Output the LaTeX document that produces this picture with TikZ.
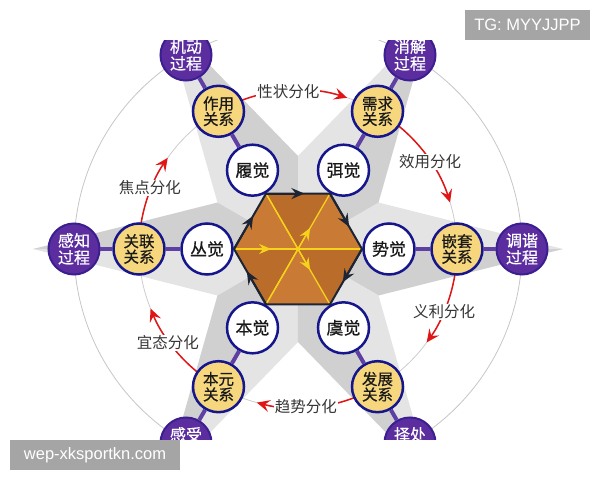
\documentclass[tikz,border=0pt]{standalone}
\usepackage{fontspec}
\newfontfamily\cjk[FakeBold=0.6]{Noto Sans CJK SC}
\newfontfamily\cjkl{Noto Sans CJK SC}
\newfontfamily\wmfont{Liberation Sans}
\usetikzlibrary{arrows.meta}
\definecolor{navyb}{HTML}{16168C}
\definecolor{purp}{HTML}{5B2D9E}
\definecolor{purpedge}{HTML}{3B1F90}
\definecolor{purpline}{HTML}{5E3FA3}
\definecolor{yel}{HTML}{F6D77E}
\definecolor{hexA}{HTML}{C97B36}
\definecolor{hexB}{HTML}{BA6C2B}
\definecolor{hexedge}{HTML}{1D2535}
\definecolor{arrnavy}{HTML}{1B2D4F}
\definecolor{yline}{HTML}{F7D21A}
\definecolor{redarr}{HTML}{E01515}
\definecolor{lbl}{HTML}{363636}
\definecolor{starA}{HTML}{D0D0D0}
\definecolor{starB}{HTML}{E4E4E4}
\definecolor{wmgray}{HTML}{A5A5A5}
\begin{document}
\begin{tikzpicture}[x=1pt,y=1pt,
  cnode/.style={circle, minimum size=51pt, inner sep=0pt, line width=2.5pt, draw=navyb, align=center},
  jue/.style={cnode, fill=white, text=black!90, font=\cjk\fontsize{17}{19}\selectfont},
  guanxi/.style={cnode, fill=yel, text=black!90, font=\cjk\fontsize{15.5}{15.5}\selectfont},
  guocheng/.style={cnode, fill=purp, draw=purpedge, line width=2pt, text=white, font=\cjk\fontsize{16}{17}\selectfont},
  pctext/.style={inner sep=0pt, text=white, font=\cjk\fontsize{16}{17}\selectfont},
  lab/.style={fill=white, inner sep=1pt, text=lbl, font=\cjkl\fontsize{15.5}{15.5}\selectfont},
  redarc/.style={draw=redarr, line width=1.5pt, -{Stealth[length=13pt,width=12pt,inset=5pt]}},
  spoke/.style={draw=purpline, line width=4pt},
  yl/.style={draw=yline, line width=1.3pt},
  yarr/.style={yl, -{Stealth[length=12pt,width=10pt,inset=4pt]}},
  harr/.style={draw=hexedge, line width=2pt, -{Stealth[length=13pt,width=11pt,inset=4.5pt,fill=arrnavy]}},
  wm/.style={fill=wmgray, text=white, inner sep=0pt, font=\wmfont\fontsize{16.5}{17}\selectfont}
]
\useasboundingbox (-298,-231) rectangle (302,249);
\begin{scope}
\clip (-298,-190) rectangle (302,209);
% background star
\foreach \a in {0,60,...,300} {
  \fill[starB] (0,0) -- (\a+30:93) -- (\a:265) -- cycle;
  \fill[starA] (0,0) -- (\a-30:93) -- (\a:265) -- cycle;
}
% thin circles
\draw[gray!45, line width=0.8pt] (0,0) circle[radius=224];
\draw[gray!40, line width=0.8pt] (0,0) circle[radius=159];
% hexagon
\foreach \i in {0,...,5} { \coordinate (h\i) at (60*\i:64); }
\coordinate (hc) at (0,0);
\fill[hexA] (hc) -- (h0) -- (h1) -- cycle;
\fill[hexB] (hc) -- (h1) -- (h2) -- cycle;
\fill[hexA] (hc) -- (h2) -- (h3) -- cycle;
\fill[hexB] (hc) -- (h3) -- (h4) -- cycle;
\fill[hexA] (hc) -- (h4) -- (h5) -- cycle;
\fill[hexB] (hc) -- (h5) -- (h0) -- cycle;
\draw[yl] (h0) -- (h3);
\draw[yl] (h1) -- (h4);
\draw[yl] (h2) -- (h5);
\path (h3) -- (h0) coordinate[pos=0.29] (ya1);
\path (h4) -- (h1) coordinate[pos=0.69] (ya2);
\path (h2) -- (h5) coordinate[pos=0.69] (ya3);
\draw[yarr] (h3) -- (ya1);
\draw[yarr] (h4) -- (ya2);
\draw[yarr] (h2) -- (ya3);
\draw[hexedge, line width=2pt, line join=round] (h0) -- (h1) -- (h2) -- (h3) -- (h4) -- (h5) -- cycle;
\path (h2) -- (h1) coordinate[pos=0.6] (ea1);
\path (h1) -- (h0) coordinate[pos=0.6] (ea2);
\path (h0) -- (h5) coordinate[pos=0.6] (ea3);
\path (h4) -- (h3) coordinate[pos=0.6] (ea4);
\path (h3) -- (h2) coordinate[pos=0.6] (ea5);
\draw[harr] (h2) -- (ea1);
\draw[harr] (h1) -- (ea2);
\draw[harr] (h0) -- (ea3);
\draw[harr] (h4) -- (ea4);
\draw[harr] (h3) -- (ea5);
% red arcs
\coordinate (r1) at (110.5:159);
\coordinate (r2) at (50.5:159);
\coordinate (r3) at (-9.5:159);
\coordinate (r4) at (-69.5:159);
\coordinate (r5) at (-129.5:159);
\coordinate (r6) at (170.5:159);
\draw[redarc] (r1) arc[start angle=110.5, end angle=72, radius=159];
\draw[redarc] (r2) arc[start angle=50.5, end angle=17, radius=159];
\draw[redarc] (r3) arc[start angle=-9.5, end angle=-36, radius=159];
\draw[redarc] (r4) arc[start angle=-69.5, end angle=-105, radius=159];
\draw[redarc] (r5) arc[start angle=-129.5, end angle=-158, radius=159];
\draw[redarc] (r6) arc[start angle=170.5, end angle=145, radius=159];
% nodes
\node[jue] (j1) at (120:91) {履觉};
\node[jue] (j2) at (60:91) {弭觉};
\node[jue] (j3) at (0:91) {势觉};
\node[jue] (j4) at (-60:91) {虞觉};
\node[jue] (j5) at (-120:91) {本觉};
\node[jue] (j6) at (180:91) {丛觉};
\node[guanxi] (g1) at (120:159) {作用\\关系};
\node[guanxi] (g2) at (60:159) {需求\\关系};
\node[guanxi] (g3) at (0:159) {嵌套\\关系};
\node[guanxi] (g4) at (-60:159) {发展\\关系};
\node[guanxi] (g5) at (-120:159) {本元\\关系};
\node[guanxi] (g6) at (180:159) {关联\\关系};
\node[guocheng] (p1) at (120:224) {机动\\过程};
\node[guocheng] (p2) at (60:224) {消解\\过程};
\node[guocheng] (p3) at (0:224) {调谐\\过程};
\node[guocheng] (p4) at (-60:224) {};
\node[guocheng] (p5) at (-120:224) {};
\node[guocheng] (p6) at (180:224) {感知\\过程};
\node[pctext] (p4t) at ([yshift=8.5pt]p4.center) {择处};
\node[pctext] (p5t) at ([yshift=8.5pt]p5.center) {感受};
% spokes
\foreach \k in {1,...,6} {
  \draw[spoke] (p\k) -- (g\k);
  \draw[spoke] (g\k) -- (j\k);
}
% labels
\node[lab] (l1) at (-9.5,157) {性状分化};
\node[lab] (l2) at (132,87) {效用分化};
\node[lab] (l3) at (146,-63) {义利分化};
\node[lab] (l4) at (8,-158) {趋势分化};
\node[lab] (l5) at (-130,-94) {宜态分化};
\node[lab] (l6) at (-148,61) {焦点分化};
\end{scope}
% watermarks
\node[wm, minimum width=125pt, minimum height=30pt] (wm1) at (229.5,224) {TG: MYYJJPP};
\node[wm, minimum width=170pt, minimum height=30pt] (wm2) at (-203,-206) {wep-xksportkn.com};
\end{tikzpicture}
\end{document}
